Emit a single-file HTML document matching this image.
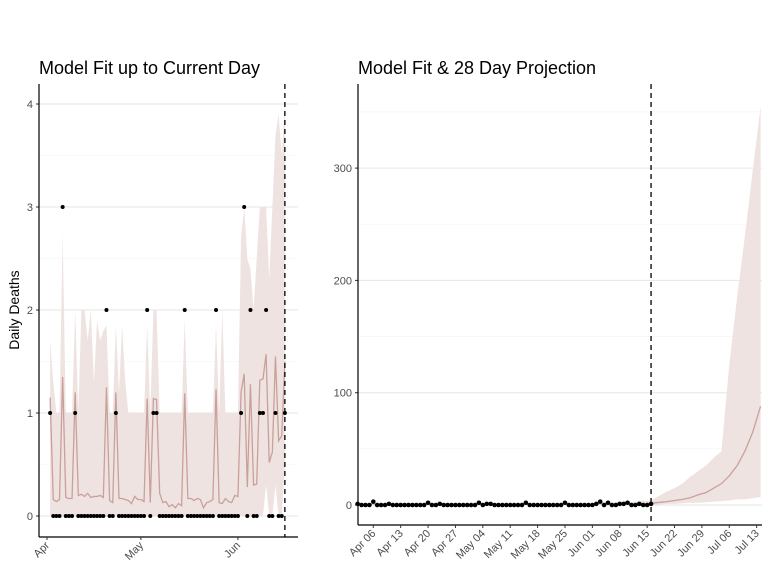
<!DOCTYPE html>
<html><head><meta charset="utf-8"><style>
html,body{margin:0;padding:0;background:#fff;}
svg{display:block;font-family:"Liberation Sans",sans-serif;}
</style></head><body>
<svg id="chart" width="768" height="576" viewBox="0 0 768 576">
<text x="39" y="74" font-size="18" fill="#000" textLength="221">Model Fit up to Current Day</text>
<text x="358" y="74" font-size="18" fill="#000" textLength="238">Model Fit &amp; 28 Day Projection</text>
<text transform="translate(19,310) rotate(-90)" text-anchor="middle" font-size="14" fill="#000">Daily Deaths</text>
<g id="left"></g>
<g id="right"></g>
</svg>
<script>
// day index: 0 = Apr 1
const obsDays = [];
for (let d = 1; d <= 76; d++) obsDays.push(d);
const observed = [1,0,0,0,3,0,0,0,1,0,0,0,0,0,0,0,0,0,2,0,0,1,0,0,0,0,0,0,0,0,0,2,0,1,1,0,0,0,0,0,0,0,0,2,0,0,0,0,0,0,0,0,0,2,0,0,0,0,0,0,0,1,3,0,2,0,0,1,1,2,0,0,1,0,0,1];
const fitMean = [1.15,.16,.14,.16,1.35,.18,.17,.17,1.2,.2,.21,.19,.22,.18,.19,.19,.2,.18,1.25,.15,.13,1.2,.17,.17,.16,.15,.12,.19,.16,.16,.14,1.14,.13,1.14,1.13,.22,.13,.14,.09,.11,.08,.12,.1,1.19,.17,.17,.15,.17,.16,.08,.13,.14,.16,1.23,.13,.12,.17,.14,.13,.2,.19,1.2,1.38,.28,1.28,.3,.31,1.32,1.33,1.57,.52,.62,1.55,.73,.78,1.5];
const fitUpper = [1.7,1.3,1,1,2.75,1,1,1,2,1,2,2,1.7,2,1.3,1.9,1.7,1.8,1.85,1,1,1.85,1.2,1.85,1.3,1,1,1,1,1,1,1.85,1,2,2,1,1,1,1,1,1,1,1,1.9,1,1,1,1,1,1,1,1,1,1.85,1,2,1,1,1,1,1,2.7,3,2.5,2.4,2,2.5,3,3,3,2.3,3,3.7,3.9,3.5,4.0];
const fitLower = [0,0,0,0,0,0,0,0,0,0,0,0,0,0,0,0,0,0,0,0,0,0,0,0,0,0,0,0,0,0,0,0,0,0,0,0,0,0,0,0,0,0,0,0,0,0,0,0,0,0,0,0,0,0,0,0,0,0,0,0,0,0,0,0,0,0,0,0,0,.3,0,0,.3,0,0,.5];
const projDays = [76,78,80,82,84,86,88,90,92,94,96,98,100,102,104];
const projMean = [1.5,2.3,3,4,5,6.5,9,11,15,19,26,35,48,65,88];
const projUpper = [4,8,12,15,19,25,30,35,42,48,125,185,240,298,355];
const projLower = [0,0.5,1,1,1.5,2,2,2.5,3,3.5,4,5,5,6,7];
const leftYTicks = [0,1,2,3,4];
const leftXTicks = ["Apr","May","Jun"];
const leftXTickDays = [0,30,61];
const rightYTicks = [0,100,200,300];
const rightXTicks = ["Apr 06","Apr 13","Apr 20","Apr 27","May 04","May 11","May 18","May 25","Jun 01","Jun 08","Jun 15","Jun 22","Jun 29","Jul 06","Jul 13"];
const rightXTickDays = [5,12,19,26,33,40,47,54,61,68,75,82,89,96,103];
const currentDay = 76;

const NS = "http://www.w3.org/2000/svg";
function mk(parent, tag, attrs) {
  const e = document.createElementNS(NS, tag);
  for (const k in attrs) e.setAttribute(k, attrs[k]);
  parent.appendChild(e);
  return e;
}
function panel(g, P) {
  const x = P.x, y = P.y;
  P.minor.forEach(v => { const l = mk(g,"line",{x1:P.left,x2:P.right,y1:y(v),y2:y(v),stroke:"#f3f3f3","stroke-width":0.6});
    
     });
  P.yTicks.forEach(v => {
    const l = mk(g,"line",{x1:P.left,x2:P.right,y1:y(v),y2:y(v),stroke:"#e6e6e6","stroke-width":1});
    
    
    const t = mk(g,"line",{x1:P.left-3,x2:P.left,y1:y(v),y2:y(v),stroke:"#333","stroke-width":1});
    
    
    const tx = mk(g,"text",{x:P.left-6,y:y(v)+4,"text-anchor":"end","font-size":11,fill:"#4d4d4d"});
    tx.textContent = v;
    
    
  });
  P.ribbons.forEach(r => {
    let pts = r.days.map((d,i)=>x(d)+","+y(r.up[i]));
    pts = pts.concat(r.days.map((d,i)=>x(d)+","+y(r.lo[i])).reverse());
    const p = mk(g,"polygon",{points:pts.join(" "),fill:"#efe3e1",stroke:"none"});
    
    
  });
  P.lines.forEach(r => {
    const p = mk(g,"polyline",{points:r.days.map((d,i)=>x(d)+","+y(r.v[i])).join(" "),fill:"none",stroke:"#c9a09a","stroke-width":1.3});
    
    
  });
  obsDays.forEach((d,i) => {
    const c = mk(g,"circle",{cx:x(d),cy:y(observed[i]),r:P.r,fill:"#000"});
    
    
  });
  const dl = mk(g,"line",{x1:x(currentDay),x2:x(currentDay),y1:P.top,y2:P.bottom,stroke:"#000","stroke-width":1.3,"stroke-dasharray":"5,4"});
  
  
  const ya = mk(g,"line",{x1:P.left,x2:P.left,y1:P.top,y2:P.bottom,stroke:"#000","stroke-width":1.2});
  
  
  const xa = mk(g,"line",{x1:P.left,x2:P.right,y1:P.bottom,y2:P.bottom,stroke:"#000","stroke-width":1.2});
  
  
  P.xTickDays.forEach((d,i) => {
    const t = mk(g,"line",{x1:x(d),x2:x(d),y1:P.bottom,y2:P.bottom+3,stroke:"#333","stroke-width":1});
    
    
    const tx = mk(g,"text",{transform:`translate(${x(d)+3},${P.bottom+9}) rotate(-45)`,"text-anchor":"end","font-size":11,fill:"#4d4d4d"});
    tx.textContent = P.xLabels[i];
    
    
  });
}
panel(document.getElementById("left"), {
  x: d => 47 + d*3.13, y: v => 516 - v*103,
  left:39, right:298, top:84, bottom:537, r:2,
  minor:[0.5,1.5,2.5,3.5], yTicks:leftYTicks,
  ribbons:[{days:obsDays, up:fitUpper, lo:fitLower}],
  lines:[{days:obsDays, v:fitMean}],
  xTickDays:leftXTickDays, xLabels:leftXTicks
});
panel(document.getElementById("right"), {
  x: d => 373.3 + (d-5)*3.912, y: v => 505 - v*1.123,
  left:358, right:762, top:84, bottom:525, r:2.3,
  minor:[50,150,250,350], yTicks:rightYTicks,
  ribbons:[{days:obsDays, up:fitUpper, lo:fitLower},{days:projDays, up:projUpper, lo:projLower}],
  lines:[{days:obsDays, v:fitMean},{days:projDays, v:projMean}],
  xTickDays:rightXTickDays, xLabels:rightXTicks
});
</script>
</body></html>
